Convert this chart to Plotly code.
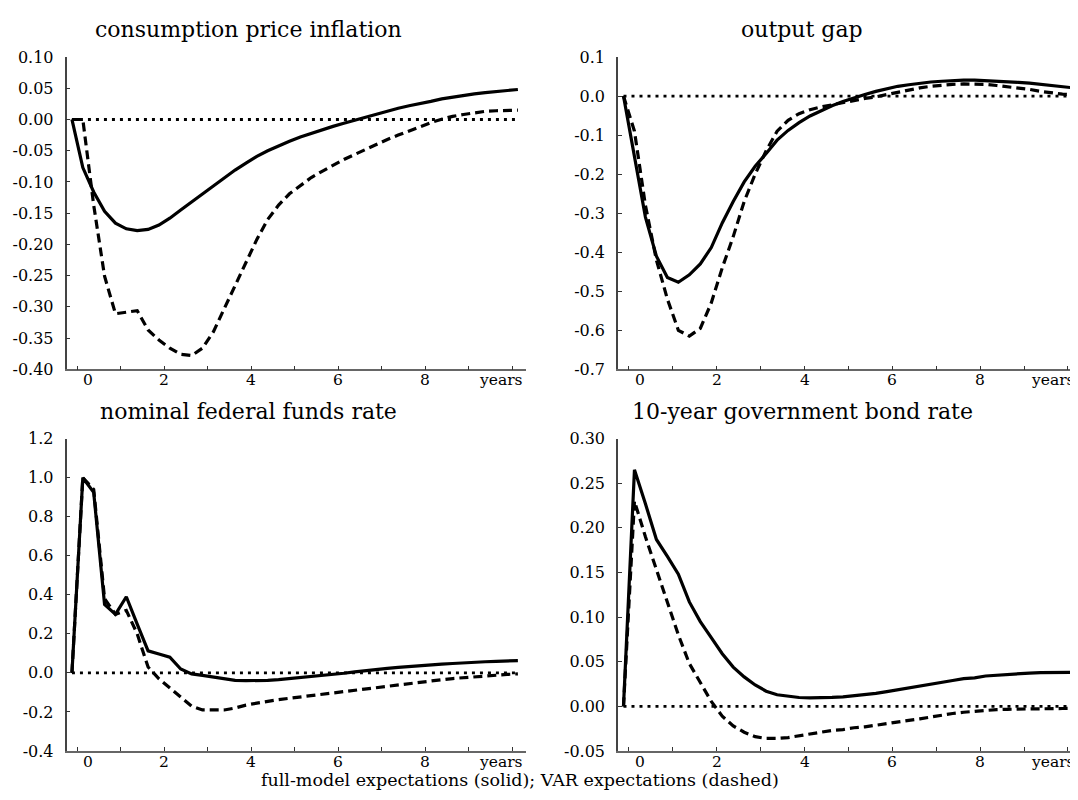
import plotly.graph_objects as go

# quarterly horizon (mid-quarter), in years
quarters = [(q - 0.5) / 4 for q in range(42)]

infl_full = [0, -0.077, -0.116, -0.147, -0.166, -0.175, -0.178, -0.176, -0.169, -0.158,
             -0.145, -0.132, -0.119, -0.106, -0.093, -0.081, -0.070, -0.059, -0.050, -0.042,
             -0.035, -0.028, -0.022, -0.016, -0.011, -0.006, -0.001, 0.004, 0.009, 0.0135,
             0.018, 0.022, 0.025, 0.029, 0.033, 0.036, 0.038, 0.041, 0.043, 0.045,
             0.047, 0.048]
infl_var = [0, 0, -0.137, -0.251, -0.311, -0.309, -0.306, -0.337, -0.353, -0.366,
            -0.376, -0.378, -0.366, -0.340, -0.303, -0.267, -0.228, -0.192, -0.160, -0.137,
            -0.119, -0.106, -0.093, -0.083, -0.073, -0.064, -0.056, -0.048, -0.039, -0.032,
            -0.025, -0.018, -0.011, -0.005, 0.0005, 0.005, 0.008, 0.011, 0.013, 0.014,
            0.0145, 0.015]

gap_full = [0, -0.15, -0.31, -0.41, -0.465, -0.477, -0.458, -0.43, -0.388, -0.325,
            -0.27, -0.22, -0.18, -0.147, -0.113, -0.088, -0.068, -0.051, -0.037, -0.025,
            -0.014, -0.004, 0.004, 0.012, 0.019, 0.025, 0.029, 0.033, 0.036, 0.038,
            0.040, 0.041, 0.041, 0.040, 0.039, 0.037, 0.035, 0.033, 0.030, 0.027,
            0.024, 0.021]
gap_var = [0, -0.09, -0.28, -0.42, -0.52, -0.60, -0.615, -0.595, -0.53, -0.44,
           -0.36, -0.27, -0.20, -0.14, -0.09, -0.062, -0.045, -0.035, -0.028, -0.022,
           -0.016, -0.011, -0.006, -0.002, 0.004, 0.010, 0.016, 0.021, 0.025, 0.028,
           0.030, 0.031, 0.031, 0.030, 0.027, 0.024, 0.021, 0.017, 0.012, 0.008,
           0.005, 0.003]

ffr_full = [0, 1.0, 0.925, 0.35, 0.30, 0.39, 0.25, 0.113, 0.097, 0.08,
            0.02, -0.005, -0.013, -0.022, -0.033, -0.038, -0.04, -0.04, -0.038, -0.035,
            -0.03, -0.025, -0.02, -0.015, -0.008, -0.002, 0.005, 0.012, 0.018, 0.023,
            0.028, 0.033, 0.038, 0.042, 0.045, 0.048, 0.052, 0.054, 0.057, 0.059,
            0.061, 0.063]
ffr_var = [0, 1.0, 0.94, 0.38, 0.30, 0.32, 0.20, 0.03, -0.03, -0.075,
           -0.12, -0.17, -0.19, -0.19, -0.19, -0.18, -0.165, -0.155, -0.145, -0.137,
           -0.13, -0.123, -0.117, -0.11, -0.103, -0.096, -0.089, -0.082, -0.075, -0.068,
           -0.061, -0.054, -0.047, -0.041, -0.035, -0.029, -0.024, -0.019, -0.015, -0.011,
           -0.008, -0.005]

bond_full = [0, 0.265, 0.227, 0.187, 0.168, 0.148, 0.117, 0.095, 0.077, 0.059,
             0.044, 0.033, 0.024, 0.017, 0.013, 0.011, 0.0099, 0.0095, 0.0095, 0.010,
             0.0106, 0.0117, 0.013, 0.0146, 0.0165, 0.0187, 0.021, 0.023, 0.025, 0.027,
             0.029, 0.031, 0.032, 0.034, 0.035, 0.036, 0.0366, 0.0373, 0.0377, 0.038,
             0.038, 0.038]
bond_var = [0, 0.23, 0.19, 0.154, 0.117, 0.08, 0.048, 0.026, 0.0055, -0.011,
            -0.022, -0.029, -0.034, -0.036, -0.036, -0.035, -0.033, -0.031, -0.029, -0.027,
            -0.026, -0.024, -0.023, -0.021, -0.019, -0.0176, -0.0157, -0.014, -0.0117, -0.0099,
            -0.008, -0.0066, -0.0055, -0.0044, -0.0037, -0.0033, -0.003, -0.0026, -0.0026, -0.0025,
            -0.0024, -0.0023]

panel_titles = ["consumption price inflation", "output gap",
                "nominal federal funds rate", "10-year government bond rate"]
caption = "full-model expectations (solid); VAR expectations (dashed)"

x_tick_marks = list(range(11))          # small tick marks every year
x_label_pos = [0.25, 2, 4, 6, 8]        # where the year labels sit ("0" sits right of its tick)
x_label_text = ["0", "2", "4", "6", "8"]
x_unit = "years"

y_ticks_1 = [0.10, 0.05, 0.00, -0.05, -0.10, -0.15, -0.20, -0.25, -0.30, -0.35, -0.40]
y_ticks_2 = [0.1, 0.0, -0.1, -0.2, -0.3, -0.4, -0.5, -0.6, -0.7]
y_ticks_3 = [1.2, 1.0, 0.8, 0.6, 0.4, 0.2, 0.0, -0.2, -0.4]
y_ticks_4 = [0.30, 0.25, 0.20, 0.15, 0.10, 0.05, 0.00, -0.05]

FONT = "DejaVu Serif"
# the page body adds an 8 px margin; the figure fills the rest of the 1078x800 window
OFF = 8
W, H = 1078 - OFF, 800 - OFF
TICK_SIZE = 15.5


def fx(px):
    return (px - OFF) / W


def fy(px):
    return 1 - (px - OFF) / H


panels = [
    dict(full=infl_full, var=infl_var, ticks=y_ticks_1, fmt="{:.2f}", yr=[-0.40, 0.10],
         xpx=(66.5, 525.5), xr=[-0.25, 10.3], ypx=(49, 369), title_x=248, title_y=21),
    dict(full=gap_full, var=gap_var, ticks=y_ticks_2, fmt="{:.1f}", yr=[-0.70, 0.10],
         xpx=(618, 1078), xr=[-0.25, 10.23], ypx=(49, 369), title_x=802, title_y=21),
    dict(full=ffr_full, var=ffr_var, ticks=y_ticks_3, fmt="{:.1f}", yr=[-0.40, 1.20],
         xpx=(66.5, 525.5), xr=[-0.25, 10.3], ypx=(440, 760), title_x=248, title_y=412),
    dict(full=bond_full, var=bond_var, ticks=y_ticks_4, fmt="{:.2f}", yr=[-0.05, 0.30],
         xpx=(618, 1078), xr=[-0.25, 10.23], ypx=(440, 760), title_x=802, title_y=412),
]

fig = go.Figure()
annotations = []
layout_axes = {}

for k, p in enumerate(panels, start=1):
    xa = "x" if k == 1 else f"x{k}"
    ya = "y" if k == 1 else f"y{k}"
    # zero reference line (dotted)
    fig.add_trace(go.Scatter(x=[quarters[0], quarters[-1]], y=[0, 0], mode="lines",
                             line=dict(color="black", width=2.8, dash="3px,5px"),
                             xaxis=xa, yaxis=ya, showlegend=False, hoverinfo="skip"))
    fig.add_trace(go.Scatter(x=quarters, y=p["var"], mode="lines",
                             line=dict(color="black", width=3.2, dash="9px,5px"),
                             xaxis=xa, yaxis=ya, showlegend=False))
    fig.add_trace(go.Scatter(x=quarters, y=p["full"], mode="lines",
                             line=dict(color="black", width=3.2),
                             xaxis=xa, yaxis=ya, showlegend=False))

    xname = "xaxis" if k == 1 else f"xaxis{k}"
    yname = "yaxis" if k == 1 else f"yaxis{k}"
    layout_axes[xname] = dict(
        domain=[fx(p["xpx"][0]), min(1.0, fx(p["xpx"][1]))], range=p["xr"], anchor=ya,
        showline=True, linecolor="#666", linewidth=1.5, showgrid=False, zeroline=False,
        tickmode="array", tickvals=x_tick_marks, showticklabels=False,
        ticks="inside", ticklen=4, tickwidth=1.2, tickcolor="#333",
    )
    layout_axes[yname] = dict(
        domain=[fy(p["ypx"][1]), fy(p["ypx"][0])], range=p["yr"], anchor=xa,
        showline=True, linecolor="#444", linewidth=1.5, showgrid=False, zeroline=False,
        tickmode="array", tickvals=p["ticks"], ticktext=[p["fmt"].format(v) for v in p["ticks"]],
        ticks="inside", ticklen=4, tickwidth=1.2, tickcolor="#333",
        tickfont=dict(family=FONT, size=16, color="black"), ticklabelstandoff=8,
    )
    annotations.append(dict(text=panel_titles[k - 1], x=fx(p["title_x"]), y=fy(p["title_y"]),
                            xref="paper", yref="paper", xanchor="center", yanchor="middle",
                            showarrow=False, font=dict(family=FONT, size=22, color="black")))
    # x-axis year labels and the unit "years"
    for pos, txt in zip(x_label_pos, x_label_text):
        annotations.append(dict(text=txt, x=pos, y=0, xref=xa, yref=f"{ya} domain",
                                xanchor="center", yanchor="top", yshift=-1, borderpad=0,
                                showarrow=False,
                                font=dict(family=FONT, size=TICK_SIZE, color="black")))
    annotations.append(dict(text=x_unit, x=p["xr"][1], y=0, xref=xa, yref=f"{ya} domain",
                            xanchor="right", yanchor="top", yshift=-1, xshift=-2, borderpad=0,
                            showarrow=False, font=dict(family=FONT, size=TICK_SIZE, color="black")))

annotations.append(dict(text=caption, x=fx(520), y=fy(789.9), xref="paper", yref="paper",
                        xanchor="center", yanchor="middle", showarrow=False, borderpad=0,
                        font=dict(family=FONT, size=17.5, color="black")))

fig.update_layout(
    width=W, height=H, margin=dict(l=0, r=0, t=0, b=0),
    paper_bgcolor="white", plot_bgcolor="white",
    annotations=annotations, showlegend=False, **layout_axes,
)

fig.write_html("out.html")
